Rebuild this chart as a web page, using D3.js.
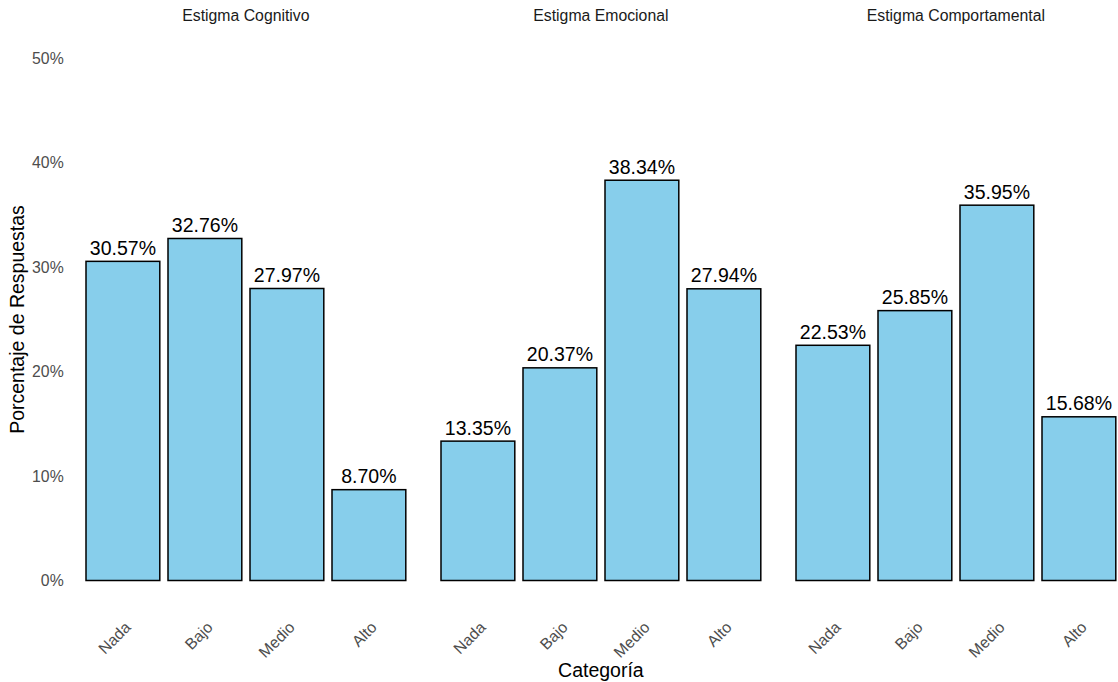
<!DOCTYPE html>
<html>
<head>
<meta charset="utf-8">
<script src="https://cdn.jsdelivr.net/npm/d3@7"></script>
<style>
  html, body { margin: 0; padding: 0; background: #fff; overflow: hidden; }
  svg { display: block; font-family: "Liberation Sans", Arial, sans-serif; }
</style>
</head>
<body>
<svg id="chart" width="1118" height="682"></svg>
<script>
const facets = ["Estigma Cognitivo", "Estigma Emocional", "Estigma Comportamental"];
const categories = ["Nada", "Bajo", "Medio", "Alto"];
const cognitivo = [30.57, 32.76, 27.97, 8.70];
const emocional = [13.35, 20.37, 38.34, 27.94];
const comportamental = [22.53, 25.85, 35.95, 15.68];
const yTicks = [0, 10, 20, 30, 40, 50];

const seriesValues = [cognitivo, emocional, comportamental];

const svg = d3.select("#chart");

const panelLeft = 73.7, panelW = 344.4, panelGap = 10.6;
const yTop = 58.5, yBottom = 580.5;

const y = d3.scaleLinear().domain([0, 50]).range([yBottom, yTop]);

// y axis tick labels
const yAxis = svg.append("g").attr("transform", `translate(${panelLeft},0)`)
  .call(d3.axisLeft(y).tickValues(yTicks).tickFormat(d => d + "%").tickSize(0).tickPadding(10));
yAxis.select(".domain").remove();
yAxis.selectAll("text")
  .attr("fill", "#4d4d4d")
  .style("font-size", "15.8px")
  .style("font-family", "Liberation Sans, Arial, sans-serif");

facets.forEach((f, i) => {
  const x0 = panelLeft + i * (panelW + panelGap);
  const x = d3.scaleBand().domain(categories).range([x0, x0 + panelW])
    .paddingInner(0.1).paddingOuter(0.15);
  const g = svg.append("g");

  // strip title
  g.append("text")
    .attr("x", x0 + panelW / 2).attr("y", 21)
    .attr("text-anchor", "middle")
    .attr("fill", "#1a1a1a")
    .style("font-size", "15.8px")
    .text(f);

  const data = categories.map((c, j) => ({ c, v: seriesValues[i][j] }));

  g.selectAll("rect").data(data).enter().append("rect")
    .attr("x", d => x(d.c))
    .attr("width", x.bandwidth())
    .attr("y", d => y(d.v))
    .attr("height", d => y(0) - y(d.v))
    .attr("fill", "#87CEEB")
    .attr("stroke", "#000")
    .attr("stroke-width", 1.5);

  g.selectAll("text.lbl").data(data).enter().append("text")
    .attr("class", "lbl")
    .attr("x", d => x(d.c) + x.bandwidth() / 2)
    .attr("y", d => y(d.v) - 6.5)
    .attr("text-anchor", "middle")
    .attr("fill", "#000")
    .style("font-size", "19.5px")
    .text(d => d.v.toFixed(2) + "%");

  // x axis tick labels
  const xAxis = g.append("g").attr("transform", `translate(0,${yBottom})`)
    .call(d3.axisBottom(x).tickSize(0).tickFormat(d => d));
  xAxis.select(".domain").remove();
  xAxis.selectAll(".tick text")
    .attr("fill", "#4d4d4d")
    .style("font-size", "15.8px")
    .style("font-family", "Liberation Sans, Arial, sans-serif")
    .attr("text-anchor", "end")
    .attr("dy", null)
    .attr("dominant-baseline", "central")
    .attr("x", 0).attr("y", 0)
    .attr("transform", "translate(5,44) rotate(-45)");
});

// axis titles
const totalRight = panelLeft + 3 * panelW + 2 * panelGap;
svg.append("text")
  .attr("x", (panelLeft + totalRight) / 2).attr("y", 677)
  .attr("text-anchor", "middle").attr("fill", "#000")
  .style("font-size", "19.5px")
  .text("Categoría");

svg.append("text")
  .attr("transform", `translate(24,${(yTop + yBottom) / 2}) rotate(-90)`)
  .attr("text-anchor", "middle").attr("fill", "#000")
  .style("font-size", "19.5px")
  .text("Porcentaje de Respuestas");
</script>
</body>
</html>
